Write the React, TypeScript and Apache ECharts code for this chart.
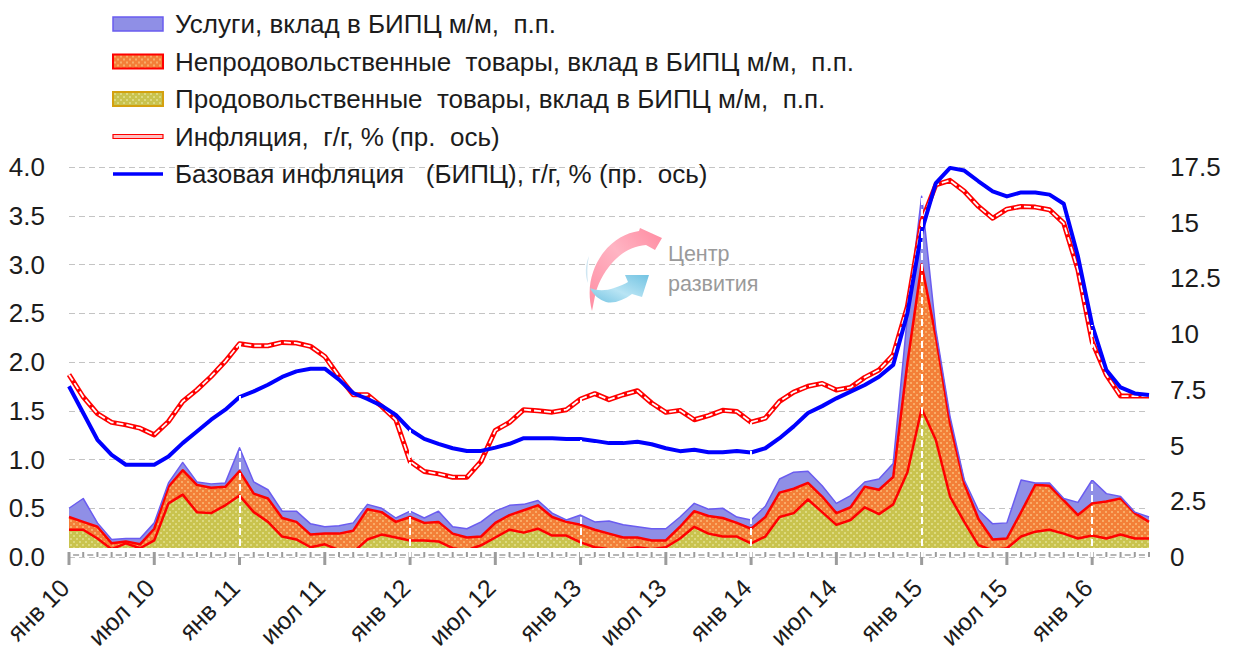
import React, { useEffect, useRef } from "react";
import * as echarts from "echarts";

const MONTHS = ["янв", "фев", "мар", "апр", "май", "июн", "июл", "авг", "сен", "окт", "ноя", "дек"];
const YEARS = [10, 11, 12, 13, 14, 15, 16];
const categories: string[] = [];
YEARS.forEach((y) => MONTHS.forEach((m, i) => { if (y < 16 || i <= 4) categories.push(m + " " + y); }));

const food = [.28,.28,.19,.08,.14,.09,.17,.55,.64,.46,.45,.53,.63,.46,.36,.21,.18,.1,.13,.07,.05,.18,.23,.2,.17,.17,.16,.09,.07,.12,.2,.28,.25,.29,.22,.22,.15,.1,.08,.08,.1,.08,.1,.19,.31,.24,.21,.21,.14,.21,.41,.45,.59,.46,.33,.38,.51,.44,.54,.87,1.52,1.2,.62,.36,.12,.07,.09,.21,.26,.28,.24,.19,.22,.19,.23,.19,.19];
const nonFood = [.13,.08,.12,.06,.02,.04,.12,.17,.25,.28,.26,.19,.25,.19,.24,.19,.18,.13,.11,.17,.22,.31,.23,.16,.24,.18,.2,.15,.13,.09,.15,.15,.23,.24,.19,.14,.18,.18,.16,.12,.1,.09,.07,.12,.16,.18,.19,.14,.15,.2,.25,.25,.17,.16,.12,.13,.21,.25,.28,1.12,1.48,1.06,.75,.39,.27,.11,.1,.25,.48,.45,.34,.24,.33,.38,.37,.26,.17];
const services = [.09,.24,.04,.04,.03,.06,.06,.04,.08,.03,.04,.04,.24,.12,.09,.07,.11,.11,.07,.08,.08,.05,.04,.04,.06,.05,.11,.07,.09,.15,.12,.1,.06,.05,.04,.02,.1,.08,.13,.13,.11,.12,.12,.1,.08,.07,.1,.06,.09,.11,.14,.17,.12,.11,.1,.12,.05,.11,.14,.48,.7,.07,.07,.04,.09,.16,.16,.33,.02,.03,.02,.13,.24,.08,.02,.01,.05];
const inflation = [8.18,7.18,6.43,6.04,5.93,5.78,5.48,6.08,6.98,7.5,8.1,8.78,9.57,9.48,9.48,9.63,9.6,9.45,9.0,8.1,7.28,7.28,6.76,6.16,4.29,3.84,3.73,3.58,3.58,4.29,5.68,6.04,6.61,6.56,6.5,6.61,7.09,7.33,7.06,7.28,7.46,6.91,6.49,6.58,6.16,6.34,6.58,6.53,6.05,6.23,6.98,7.4,7.66,7.79,7.49,7.61,8.06,8.39,9.07,11.24,15.06,16.7,16.9,16.41,15.73,15.2,15.61,15.73,15.7,15.58,14.98,12.89,9.66,8.17,7.22,7.22,7.22];
const coreInflation = [7.66,6.46,5.26,4.58,4.14,4.14,4.14,4.51,5.11,5.63,6.16,6.61,7.18,7.43,7.73,8.08,8.33,8.45,8.45,7.96,7.36,7.09,6.79,6.38,5.71,5.3,5.08,4.88,4.76,4.76,4.91,5.08,5.33,5.33,5.33,5.29,5.29,5.21,5.11,5.11,5.17,5.06,4.88,4.75,4.81,4.7,4.7,4.76,4.69,4.88,5.33,5.86,6.46,6.77,7.12,7.42,7.72,8.09,8.62,10.94,14.61,16.78,17.46,17.34,16.86,16.41,16.18,16.36,16.36,16.26,15.85,13.49,10.41,8.39,7.61,7.34,7.27];

const NAME_SERVICES = "Услуги, вклад в БИПЦ м/м,  п.п.";
const NAME_NONFOOD = "Непродовольственные  товары, вклад в БИПЦ м/м,  п.п.";
const NAME_FOOD = "Продовольственные  товары, вклад в БИПЦ м/м,  п.п.";
const NAME_INFL = "Инфляция,  г/г, % (пр.  ось)";
const NAME_CORE = "Базовая инфляция   (БИПЦ), г/г, % (пр.  ось)";

const FONT = "'Liberation Sans', Arial, sans-serif";
const TEXT = "#1c1c1c";
const TICK = "#9c9c9c";
const LINE_ICON = (h: number) => `path://M0 0h0M0 ${7 - h / 2}h50v${h}h-50zM50 14h0`;

function dots(bg: string, dot: string) {
  const c = document.createElement("canvas");
  c.width = 6; c.height = 6;
  const g = c.getContext("2d")!;
  g.fillStyle = bg; g.fillRect(0, 0, 6, 6);
  g.fillStyle = dot;
  g.fillRect(1, 1, 2, 2);
  g.fillRect(4, 4, 2, 2);
  return { image: c, repeat: "repeat", imageWidth: 6, imageHeight: 6 } as any;
}

const ARROW_PINK = "M592 311C586 288 592 268 603 253C614 239 626 233 639 231L640 228L662 238L655 250L646 245C632 246 621 253 612 263C603 273 597 286 595 296Z";
const ARROW_BLUE = "M590 288C597 291 606 291 614 288C620 286 625 284 628 282L625 275L649 275L642 297L632 294C624 300 614 304 606 302C600 300 593 295 590 288Z";
const SWOOSH = "M589 256C585 265 585 276 588 283C587 274 587 265 589 256Z";
echarts.graphic.registerShape("logoPink", echarts.graphic.extendPath(ARROW_PINK, {}) as any);
echarts.graphic.registerShape("logoBlue", echarts.graphic.extendPath(ARROW_BLUE, {}) as any);
echarts.graphic.registerShape("logoSwoosh", echarts.graphic.extendPath(SWOOSH, {}) as any);

export default function App() {
  const ref = useRef<HTMLDivElement>(null);
  useEffect(() => {
    const chart = echarts.init(ref.current!, undefined, { renderer: "svg" });
    const foodFill = dots("#c9c34e", "#dcd97f");
    const nonFoodFill = dots("#f37f38", "#f8ac68");
    const stack = "cpi";
    const jan = categories.map((c, i) => (c.startsWith("янв") && i > 0 ? i : -1)).filter((i) => i >= 0);
    const drops = jan.map((i) => {
      const top = Math.max(inflation[i], coreInflation[i], (food[i] + nonFood[i] + services[i]) * (17.5 / 4));
      return [{ coord: [i, 0] }, { coord: [i, top] }];
    });
    const area = (name: string, data: number[], fill: any, line: string, w: number) => ({
      name, type: "line", stack, data, showSymbol: false, symbol: "none", z: 2,
      lineStyle: { color: line, width: w, join: "round" },
      itemStyle: { color: line },
      areaStyle: { color: fill, opacity: 1 },
    });
    const option: any = {
      animation: false,
      backgroundColor: "#fff",
      grid: { left: 69, right: 84, top: 167, bottom: 98, containLabel: false },
      legend: {
        orient: "vertical", left: 107, top: 6, itemWidth: 50, itemHeight: 14, itemGap: 11.5, selectedMode: false,
        textStyle: { fontFamily: FONT, fontSize: 26, color: TEXT, padding: [0, 0, 0, 7], height: 25, lineHeight: 25 },
        data: [
          { name: NAME_SERVICES, icon: "rect", itemStyle: { color: "#8f8fe6", borderColor: "#6a5cf0", borderWidth: 1.5 } },
          { name: NAME_NONFOOD, icon: "rect", itemStyle: { color: nonFoodFill, borderColor: "#ff0000", borderWidth: 2 } },
          { name: NAME_FOOD, icon: "rect", itemStyle: { color: foodFill, borderColor: "#d4a10f", borderWidth: 2 } },
          { name: NAME_INFL, icon: LINE_ICON(4), itemStyle: { color: "#ffc0c0", borderColor: "#ff0000", borderWidth: 1.2 } },
          { name: NAME_CORE, icon: LINE_ICON(3.5), itemStyle: { color: "#0000ff", borderColor: "#0000ff", borderWidth: 0 } },
        ],
      },
      xAxis: {
        type: "category", data: categories, boundaryGap: false, offset: -5,
        axisLine: { show: false },
        axisTick: { show: false },
        axisLabel: { interval: 5, rotate: 45, margin: 27, padding: [0, 6, 0, 0], fontFamily: FONT, fontSize: 25, color: TEXT, showMinLabel: true },
        splitLine: { show: false },
      },
      yAxis: [
        {
          type: "value", min: 0, max: 4, interval: 0.5, position: "left",
          axisLine: { show: false }, axisTick: { show: false },
          axisLabel: { margin: 24, fontFamily: FONT, fontSize: 26, color: TEXT, formatter: (v: number) => v.toFixed(1) },
          splitLine: { show: true, lineStyle: { color: "#c4c4c4", width: 1, type: [6, 4] } },
        },
        {
          type: "value", min: 0, max: 17.5, interval: 2.5, position: "right",
          axisLine: { show: false }, axisTick: { show: false },
          axisLabel: { margin: 21, fontFamily: FONT, fontSize: 26, color: TEXT },
          splitLine: { show: false },
        },
      ],
      series: [
        area(NAME_FOOD, food, foodFill, "#ff0000", 2.5),
        area(NAME_NONFOOD, nonFood, nonFoodFill, "#ff0000", 2.5),
        area(NAME_SERVICES, services, "#8f8fe6", "#6a5cf0", 1.5),
        {
          name: "axisTicks", type: "custom", z: 5, clip: false, silent: true,
          data: categories.map((_, i) => [i, 0]),
          encode: { x: 0, y: 1 },
          renderItem: (params: any, api: any) => {
            const i = params.dataIndex;
            const [x, y0] = api.coord([i, 0]);
            const major = i % 6 === 0;
            const next = api.coord([i + 1, 0])[0];
            const children: any[] = [{
              type: "line",
              shape: { x1: x, y1: y0 - 5, x2: x, y2: y0 + (major ? 8 : 0) },
              style: { stroke: TICK, lineWidth: major ? 3 : 2, fill: null },
            }];
            if (i < categories.length - 1) {
              const mid = (x + next) / 2;
              children.push({
                type: "line",
                shape: { x1: mid - 3, y1: y0 - 2, x2: mid + 3, y2: y0 - 2 },
                style: { stroke: TICK, lineWidth: 1.5, fill: null },
              });
            }
            return { type: "group", children };
          },
        },
        {
          name: NAME_INFL, type: "line", yAxisIndex: 1, data: inflation, showSymbol: false, symbol: "none", z: 4,
          lineStyle: { color: "#ff0000", width: 5, join: "round" }, itemStyle: { color: "#ff0000" },
        },
        {
          name: "inflationCentre", type: "line", yAxisIndex: 1, data: inflation, showSymbol: false, symbol: "none", z: 4,
          lineStyle: { color: "#ffffff", width: 1.8, type: [7, 3] }, itemStyle: { color: "#ffffff" },
        },
        {
          name: NAME_CORE, type: "line", yAxisIndex: 1, data: coreInflation, showSymbol: false, symbol: "none", z: 4,
          lineStyle: { color: "#0000ff", width: 4, join: "round" }, itemStyle: { color: "#0000ff" },
          markLine: {
            silent: true, symbol: "none", z: 6, animation: false, label: { show: false },
            lineStyle: { color: "#ffffff", width: 2, type: [7, 4] },
            data: drops,
          },
        },
      ],
      graphic: [
        { type: "rect", z: 3, shape: { x: 60, y: 548, width: 1095, height: 9 }, style: { fill: "#ffffff" }, silent: true },
        {
          type: "logoPink", z: 1, silent: true,
          style: { fill: { type: "linear", x: 0, y: 1, x2: 1, y2: 0, colorStops: [{ offset: 0, color: "#ff8da2" }, { offset: 0.55, color: "#ffb4c3" }, { offset: 1, color: "#ff8aa0" }] } },
        },
        {
          type: "logoBlue", z: 1, silent: true,
          style: { fill: { type: "linear", x: 0, y: 1, x2: 1, y2: 0, colorStops: [{ offset: 0, color: "#72c3e2" }, { offset: 0.45, color: "#b8e4f4" }, { offset: 1, color: "#72c3e2" }] } },
        },
        { type: "logoSwoosh", z: 1, silent: true, style: { fill: "#cfe6f2" } },
        { type: "text", z: 1, silent: true, style: { text: "Центр", x: 668, y: 254, font: `21.5px ${FONT}`, fill: "#9a9a9a", textVerticalAlign: "middle" } },
        { type: "text", z: 1, silent: true, style: { text: "развития", x: 668, y: 284, font: `21.5px ${FONT}`, fill: "#9a9a9a", textVerticalAlign: "middle" } },
      ],
    };
    chart.setOption(option);
    return () => chart.dispose();
  }, []);
  return <div ref={ref} style={{ position: "fixed", left: 0, top: 0, width: 1233, height: 655 }} />;
}
